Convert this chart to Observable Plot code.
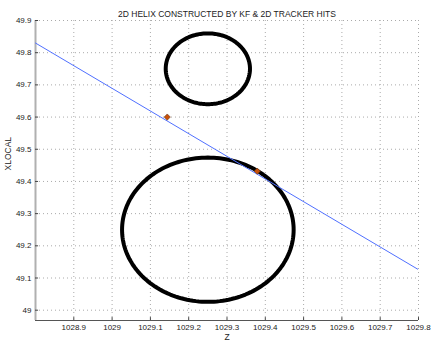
<!DOCTYPE html>
<html>
<head>
<meta charset="utf-8">
<script src="https://cdn.jsdelivr.net/npm/d3@7"></script>
<script src="https://cdn.jsdelivr.net/npm/@observablehq/plot@0.6"></script>
<style>
  html, body { margin: 0; padding: 0; background: #fff; }
  svg { display: block; }
</style>
</head>
<body>
<div id="chart"></div>
<script>
// ---- data ----
const title = "2D HELIX CONSTRUCTED BY KF & 2D TRACKER HITS";
const xLabel = "Z";
const yLabel = "XLOCAL";
const xDomain = [1028.8, 1029.8];
const yDomain = [48.968, 49.9];
const xTicks = [1028.9, 1029, 1029.1, 1029.2, 1029.3, 1029.4, 1029.5, 1029.6, 1029.7, 1029.8];
const yTicks = [49, 49.1, 49.2, 49.3, 49.4, 49.5, 49.6, 49.7, 49.8, 49.9];

// fitted helix (straight in this projection)
const helixZ = [1028.8, 1029.8];
const helixX = [49.83, 49.126];

// KF points
const hitZ = [1029.144, 1029.379];
const hitX = [49.6, 49.432];

// tracker hits (drift circles): centre and radius
const circleZ = [1029.25, 1029.25];
const circleX = [49.75, 49.25];
const circleR = [0.11, 0.224];

// ---- build tables ----
const helix = helixZ.map((z, i) => ({z, x: helixX[i]}));
const hits = hitZ.map((z, i) => ({z, x: hitX[i]}));
const circles = [];
circleZ.forEach((cz, k) => {
  const n = 180;
  for (let j = 0; j <= n; j++) {
    const a = (j / n) * 2 * Math.PI;
    circles.push({id: k, z: cz + circleR[k] * Math.cos(a), x: circleX[k] + circleR[k] * Math.sin(a)});
  }
});
const fmt = d => String(+d.toFixed(1));

const chart = Plot.plot({
  width: 434,
  height: 346,
  marginLeft: 35,
  marginRight: 16,
  marginTop: 20,
  marginBottom: 26,
  style: {fontFamily: "'Liberation Sans', Arial, Helvetica, sans-serif", fontSize: "8px", background: "#fff", color: "#222"},
  x: {domain: xDomain},
  y: {domain: yDomain},
  marks: [
    Plot.gridX(xTicks, {stroke: "#aaa", strokeOpacity: 1, strokeDasharray: "1,3"}),
    Plot.gridY(yTicks, {stroke: "#aaa", strokeOpacity: 1, strokeDasharray: "1,3"}),
    Plot.ruleX([xDomain[0]], {stroke: "#b0b0b0", strokeWidth: 2}),
    Plot.ruleY([yDomain[0]], {stroke: "#555", strokeWidth: 1}),
    Plot.ruleY(yTicks, {x1: xDomain[0], x2: xDomain[0] + 0.008, stroke: "#444"}),
    Plot.ruleX(xTicks, {y1: yDomain[0], y2: yDomain[0] + 0.009, stroke: "#444"}),
    Plot.axisX(xTicks, {tickSize: 0, tickPadding: 4, tickFormat: fmt, label: null, fill: "#222"}),
    Plot.axisY(yTicks, {tickSize: 0, tickPadding: 4, tickFormat: fmt, label: null, fill: "#222"}),
    Plot.line(circles, {x: "z", y: "x", z: "id", stroke: "#000", strokeWidth: 4, curve: "linear"}),
    Plot.line(helix, {x: "z", y: "x", stroke: "#5070ff", strokeWidth: 1, clip: true}),
    Plot.dot(hits, {x: "z", y: "x", symbol: "diamond2", r: 2.8, fill: "#c8500a", stroke: "#6a3a20", strokeWidth: 0.6}),
    Plot.text([title], {text: d => d, frameAnchor: "top", dy: -10, fontSize: 8.5, fill: "#222"}),
    Plot.text([xLabel], {text: d => d, frameAnchor: "bottom", dy: 19, fontSize: 8.5, fill: "#222"}),
    Plot.text([yLabel], {text: d => d, frameAnchor: "left", dx: -27, rotate: -90, fontSize: 8.5, fill: "#222"})
  ]
});
document.getElementById("chart").appendChild(chart);
</script>
</body>
</html>
